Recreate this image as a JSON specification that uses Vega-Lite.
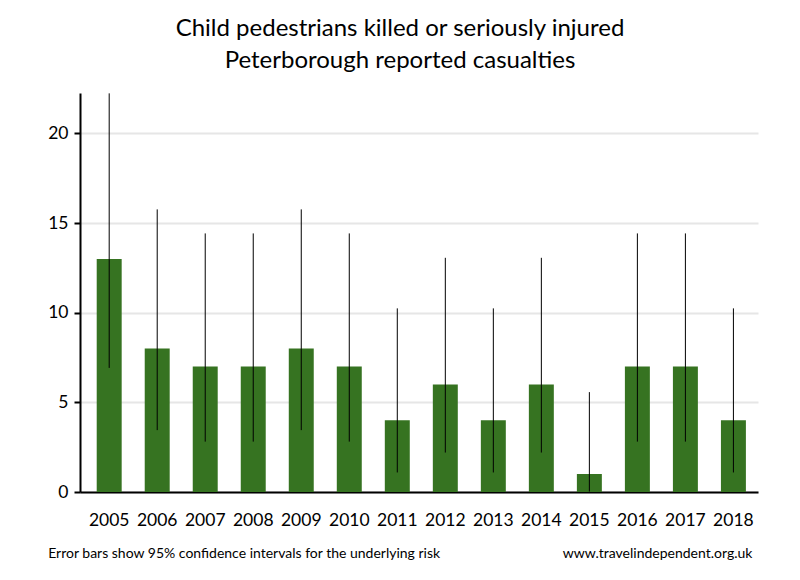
{
  "$schema": "https://vega.github.io/schema/vega-lite/v6.json",
  "width": 678,
  "height": 399,
  "autosize": {"type": "none"},
  "padding": {"left": 80, "top": 93, "right": 42, "bottom": 88},
  "background": "white",
  "title": {
    "text": ["Child pedestrians killed or seriously injured", "Peterborough reported casualties"],
    "font": "Lato",
    "fontSize": 24,
    "fontWeight": "normal",
    "lineHeight": 32,
    "color": "black",
    "anchor": "middle",
    "dx": -19,
    "offset": 20
  },
  "data": {
    "values": [
      {"year": "2005", "value": 13, "lo": 6.92, "hi": 22.23},
      {"year": "2006", "value": 8, "lo": 3.45, "hi": 15.76},
      {"year": "2007", "value": 7, "lo": 2.81, "hi": 14.42},
      {"year": "2008", "value": 7, "lo": 2.81, "hi": 14.42},
      {"year": "2009", "value": 8, "lo": 3.45, "hi": 15.76},
      {"year": "2010", "value": 7, "lo": 2.81, "hi": 14.42},
      {"year": "2011", "value": 4, "lo": 1.09, "hi": 10.24},
      {"year": "2012", "value": 6, "lo": 2.2, "hi": 13.06},
      {"year": "2013", "value": 4, "lo": 1.09, "hi": 10.24},
      {"year": "2014", "value": 6, "lo": 2.2, "hi": 13.06},
      {"year": "2015", "value": 1, "lo": 0.025, "hi": 5.57},
      {"year": "2016", "value": 7, "lo": 2.81, "hi": 14.42},
      {"year": "2017", "value": 7, "lo": 2.81, "hi": 14.42},
      {"year": "2018", "value": 4, "lo": 1.09, "hi": 10.24}
    ]
  },
  "encoding": {
    "x": {
      "field": "year",
      "type": "ordinal",
      "scale": {"paddingInner": 0.48, "paddingOuter": 0.3, "align": 0.58},
      "axis": {
        "title": null,
        "labelAngle": 0,
        "labelFont": "Lato",
        "labelFontSize": 17.5,
        "labelColor": "black",
        "labelPadding": 19,
        "ticks": false,
        "domainColor": "black",
        "domainWidth": 2
      }
    }
  },
  "layer": [
    {
      "mark": {"type": "bar", "color": "#367321"},
      "encoding": {
        "y": {
          "field": "value",
          "type": "quantitative",
          "scale": {"domain": [0, 22.25], "nice": false},
          "axis": {
            "title": null,
            "values": [0, 5, 10, 15, 20],
            "labelFont": "Lato",
            "labelFontSize": 17.5,
            "labelColor": "black",
            "labelPadding": 6,
            "tickColor": "black",
            "tickSize": 6,
            "tickWidth": 2,
            "domainColor": "black",
            "domainWidth": 2,
            "grid": true,
            "gridColor": "#e6e6e6",
            "gridWidth": 2
          }
        }
      }
    },
    {
      "mark": {"type": "rule", "color": "black", "strokeWidth": 1},
      "encoding": {
        "y": {"field": "lo", "type": "quantitative"},
        "y2": {"field": "hi"}
      }
    },
    {
      "data": {"values": [{}]},
      "mark": {"type": "text", "text": "Error bars show 95% confidence intervals for the underlying risk", "font": "Lato", "fontSize": 14, "color": "black", "align": "left", "baseline": "middle", "dx": -61, "dy": 62},
      "encoding": {"x": {"datum": "2005"}, "y": {"datum": 0}}
    },
    {
      "data": {"values": [{}]},
      "mark": {"type": "text", "text": "www.travelindependent.org.uk", "font": "Lato", "fontSize": 14, "color": "black", "align": "right", "baseline": "middle", "dx": 19, "dy": 62},
      "encoding": {"x": {"datum": "2018"}, "y": {"datum": 0}}
    }
  ],
  "config": {
    "view": {"stroke": null}
  }
}
